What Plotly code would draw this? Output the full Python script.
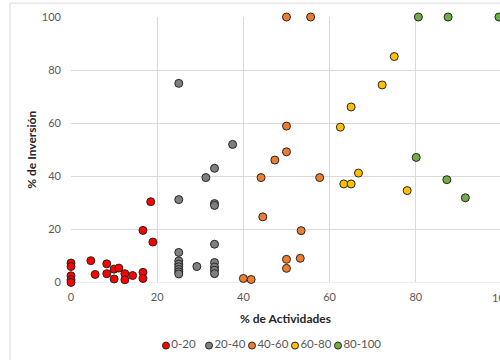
import plotly.graph_objects as go

FONT = "Lato, Open Sans, sans-serif"

# % de Actividades / % de Inversión por rango
red_x = [0, 0, 0, 0, 0, 4.6, 5.6, 8.3, 8.3, 10.0, 11.1, 10.0, 12.5, 12.5, 14.3, 16.7, 16.7, 16.7, 19.0, 18.5]
red_y = [7.3, 6.0, 2.5, 1.0, 0.0, 8.2, 3.0, 7.0, 3.3, 5.0, 5.4, 1.3, 3.3, 1.0, 2.6, 3.8, 1.5, 19.6, 15.2, 30.4]

gray_x = [25, 37.5, 33.3, 31.3, 25, 33.3, 33.3, 33.3, 25, 25, 25, 25, 25, 25, 25, 29.2, 33.3, 33.3, 33.3, 33.3]
gray_y = [75, 52, 43, 39.5, 31.2, 29.7, 29.0, 14.4, 11.3, 8.1, 6.9, 5.9, 4.9, 4.0, 3.2, 6.0, 7.5, 5.8, 4.6, 3.3]

orange_x = [50, 55.6, 50, 50, 47.3, 44.1, 57.7, 44.5, 53.4, 50, 53.2, 50, 40, 41.8]
orange_y = [100, 100, 58.9, 49.2, 46.1, 39.5, 39.5, 24.7, 19.5, 8.7, 9.1, 5.3, 1.5, 1.1]

yellow_x = [75, 72.2, 65, 62.5, 66.7, 63.3, 65, 78]
yellow_y = [85.1, 74.4, 66.1, 58.5, 41.2, 37.1, 37.1, 34.6]

green_x = [80.6, 87.5, 99.3, 100, 80.1, 87.2, 91.5]
green_y = [100, 100, 100, 100, 47.1, 38.7, 31.9]

names = ["0-20", "20-40", "40-60", "60-80", "80-100"]
colors = ["#ff0000", "#7f7f7f", "#ed7d31", "#ffc000", "#70ad47"]
xs_all = [red_x, gray_x, orange_x, yellow_x, green_x]
ys_all = [red_y, gray_y, orange_y, yellow_y, green_y]

X_MAX = 99.54  # el gráfico original queda recortado justo antes de 100
MARKER_LINE = dict(color="#262626", width=1)

fig = go.Figure()
for name, xs, ys, color in zip(names, xs_all, ys_all, colors):
    fig.add_trace(go.Scatter(
        x=xs, y=ys, mode="markers", name=name, cliponaxis=False, showlegend=False,
        marker=dict(color=color, size=8, line=MARKER_LINE)))

# leyenda compacta estilo Excel (eje de categorías oculto)
for name, color in zip(names, colors):
    fig.add_trace(go.Scatter(
        x=[name], y=[0], xaxis="x2", yaxis="y2", mode="markers+text",
        text=[name], textposition="middle right", cliponaxis=False,
        textfont=dict(size=11.5, color="#595959", family=FONT),
        marker=dict(color=color, size=7, line=MARKER_LINE),
        showlegend=False, hoverinfo="skip"))

fig.update_layout(
    width=500, height=360,
    paper_bgcolor="white", plot_bgcolor="white",
    font=dict(family=FONT, color="#595959", size=11),
    margin=dict(l=71, r=0, t=17, b=4),
    showlegend=False,
    xaxis=dict(range=[0, X_MAX], tickvals=[0, 20, 40, 60, 80], showgrid=True,
               gridcolor="#d9d9d9", zeroline=False, showline=False,
               ticklabelstandoff=7, anchor="y",
               tickfont=dict(size=11, color="#595959"),
               title=dict(text="<b>% de Actividades</b>", standoff=12,
                          font=dict(size=12, color="#262626"))),
    yaxis=dict(range=[0, 100], tickvals=[0, 20, 40, 60, 80, 100], showgrid=True,
               gridcolor="#d9d9d9", zeroline=False, showline=False,
               domain=[0.2124, 1], ticklabelstandoff=9,
               tickfont=dict(size=11, color="#595959"),
               title=dict(text="<b>% de Inversión</b>", standoff=2,
                          font=dict(size=12, color="#262626"))),
    xaxis2=dict(type="category", categoryorder="array", categoryarray=names,
                range=[-2.209, 7.767], anchor="y2", visible=False),
    yaxis2=dict(range=[-1, 1], domain=[0, 0.05], anchor="x2", visible=False),
    shapes=[dict(type="line", xref="x", yref="y", x0=0, x1=X_MAX, y0=0, y1=0,
                 line=dict(color="#d9d9d9", width=1), layer="below"),
            dict(type="rect", xref="paper", yref="paper", x0=-0.1422, x1=1.3,
                 y0=-0.2, y1=1.0413, line=dict(color="#d9d9d9", width=1))],
    annotations=[dict(text="100", xref="paper", yref="y", x=100 / X_MAX, y=0,
                      xanchor="center", yanchor="middle", yshift=-15,
                      showarrow=False, font=dict(size=11, color="#595959"))],
)

fig.write_html("out.html", config=dict(displayModeBar=False),
               post_script="document.body.style.margin='0px';")
